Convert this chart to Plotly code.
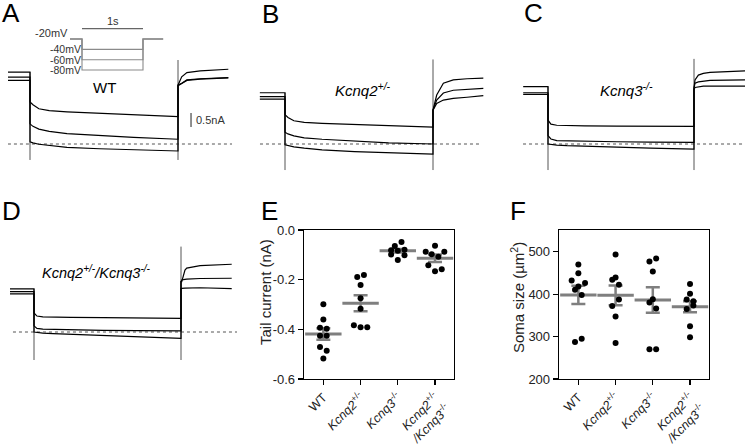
import plotly.graph_objects as go

W, H = 745, 444
FONT = "Arial, 'Liberation Sans', Helvetica, sans-serif"
GREY = "#7f7f7f"

# ---------------- data: current traces (time in s, current in nA) ----------------
step_t = [0.0, 0.02, 0.06, 0.13, 0.25, 0.47, 0.70, 1.0]

A_pre_t = -0.15
A_pre = [2.57, 2.39, 2.27]
A_step = [[1.50, 1.40, 1.26, 1.19, 1.15, 1.10, 1.04, 0.98],
          [0.72, 0.63, 0.53, 0.45, 0.37, 0.30, 0.24, 0.17],
          [0.08, 0.04, -0.01, -0.06, -0.12, -0.17, -0.21, -0.25]]
A_tail_t = [1.0, 1.025, 1.06, 1.15, 1.34]
A_tail = [[2.10, 2.40, 2.55, 2.61, 2.67],
          [2.10, 2.17, 2.29, 2.33, 2.37],
          [2.08, 2.15, 2.27, 2.32, 2.36]]
A_on = [2.57, -0.57]
A_off = [3.00, -0.57]
A_zero_t = [-0.149, 1.365]

B_pre_t = -0.17
B_pre = [1.83, 1.69, 1.60]
B_step = [[1.05, 0.95, 0.83, 0.77, 0.74, 0.70, 0.64, 0.60],
          [0.42, 0.36, 0.29, 0.22, 0.17, 0.10, 0.04, 0.00],
          [-0.03, -0.06, -0.10, -0.15, -0.21, -0.27, -0.31, -0.36]]
B_tail_t = [1.0, 1.025, 1.07, 1.137, 1.23, 1.34]
B_tail = [[1.21, 1.75, 2.17, 2.29, 2.33, 2.35],
          [1.21, 1.57, 1.82, 1.92, 1.96, 1.99],
          [1.21, 1.45, 1.57, 1.63, 1.67, 1.73]]
B_on = [1.83, -0.93]
B_off = [3.02, -0.93]
B_zero_t = [-0.169, 1.331]

C_pre_t = -0.17
C_pre = [2.05, 1.83, 1.77]
C_step = [[0.85, 0.71, 0.67, 0.66, 0.65, 0.64, 0.64, 0.63],
          [0.30, 0.18, 0.12, 0.11, 0.10, 0.08, 0.07, 0.06],
          [0.00, -0.02, -0.04, -0.06, -0.08, -0.12, -0.15, -0.18]]
C_tail_t = [1.0, 1.007, 1.03, 1.064, 1.11, 1.35]
C_tail = [[2.00, 2.29, 2.46, 2.52, 2.56, 2.61],
          [2.00, 2.17, 2.22, 2.25, 2.27, 2.29],
          [1.95, 2.02, 2.05, 2.07, 2.07, 2.07]]
C_on = [2.05, -0.93]
C_off = [3.04, -0.93]
C_zero_t = [-0.171, 1.349]

D_pre_t = -0.165
D_pre = [1.54, 1.44, 1.36]
D_step = [[0.68, 0.57, 0.54, 0.53, 0.52, 0.51, 0.50, 0.49],
          [0.22, 0.13, 0.10, 0.09, 0.08, 0.06, 0.05, 0.04],
          [0.00, -0.02, -0.04, -0.06, -0.08, -0.12, -0.16, -0.23]]
D_tail_t = [1.0, 1.005, 1.027, 1.039, 1.13, 1.345]
D_tail = [[1.80, 1.80, 2.21, 2.28, 2.37, 2.42],
          [1.80, 1.86, 1.88, 1.89, 1.91, 1.92],
          [1.55, 1.56, 1.57, 1.57, 1.58, 1.55]]
D_on = [1.54, -1.00]
D_off = [3.05, -1.00]
D_zero_t = [-0.143, 1.381]

# voltage protocol (s, mV)
proto_t = [-0.197, 0, 0, 1, 1, 1.33]
hold_mv = -20
step_mv = [-40, -60, -80]

# ---------------- data: summary panels ----------------
groups = ["WT", "<i>Kcnq2</i><sup>+/-</sup>", "<i>Kcnq3</i><sup>-/-</sup>",
          "<i>Kcnq2</i><sup>+/-</sup><br><i>/Kcnq3</i><sup>-/-</sup>"]

tail_vals = [[-0.299, -0.360, -0.394, -0.398, -0.426, -0.426, -0.471, -0.486, -0.517],
             [-0.189, -0.181, -0.221, -0.275, -0.317, -0.384, -0.392, -0.392],
             [-0.048, -0.064, -0.082, -0.084, -0.080, -0.099, -0.102, -0.121],
             [-0.063, -0.088, -0.088, -0.098, -0.108, -0.142, -0.166, -0.158]]
tail_jit = [[0, 0, -0.09, 0.09, -0.09, 0.09, -0.09, 0.09, 0],
            [-0.09, 0.09, 0, 0, 0, -0.18, 0, 0.18],
            [0.10, -0.08, -0.18, 0, 0.18, -0.18, 0.18, 0],
            [0, -0.25, 0.25, -0.09, 0.09, -0.18, 0, 0.18]]
tail_mean = [-0.419, -0.295, -0.084, -0.114]
tail_sem = [0.023, 0.032, 0.007, 0.015]
tail_ticks = [0.0, -0.2, -0.4, -0.6]
tail_ticktext = ["0.0", "-0.2", "-0.4", "-0.6"]

soma_vals = [[469.5, 449, 432, 426, 418, 410, 398, 287, 295],
             [493, 439, 434, 422, 387, 372, 347, 285],
             [476.6, 484, 453, 388, 380, 366, 270, 270.3],
             [424, 401, 387.5, 383, 373, 365, 324, 298.4]]
soma_jit = [[0, 0, -0.18, 0.18, 0, -0.09, 0.09, -0.09, 0.09],
            [0, 0, -0.09, 0.09, 0.09, -0.09, 0, 0],
            [-0.09, 0.09, 0, 0, -0.09, 0.09, -0.09, 0.09],
            [0, 0, -0.09, 0.09, 0.09, -0.09, 0, 0]]
soma_mean = [398, 397, 386, 370]
soma_sem = [21.5, 23, 30, 13]
soma_ticks = [200, 300, 400, 500]

# ---------------- layout helpers (pixel geometry) ----------------
PPN = 28.0  # px per nA


def trace_axes(px, py, on, off, zero, ppu=PPN):
    s = off - on
    xa = dict(domain=[px[0] / W, px[1] / W], range=[(px[0] - on) / s, (px[1] - on) / s],
              visible=False, showgrid=False, zeroline=False, automargin=False)
    ya = dict(domain=[1 - py[1] / H, 1 - py[0] / H],
              range=[(zero - py[1]) / ppu, (zero - py[0]) / ppu],
              visible=False, showgrid=False, zeroline=False, automargin=False)
    return xa, ya


fig = go.Figure()
layout = dict(width=W, height=H, margin=dict(l=0, r=0, t=0, b=0, pad=0, autoexpand=False),
              autosize=False,
              paper_bgcolor="white", plot_bgcolor="white", showlegend=False,
              font=dict(family=FONT, color="black"))

panels = [
    ("1", dict(px=(8, 232), py=(50, 168), on=30, off=178, zero=144),
     A_pre_t, A_pre, A_step, A_tail_t, A_tail, A_on, A_off, A_zero_t),
    ("2", dict(px=(258, 486), py=(50, 172), on=285, off=433, zero=144),
     B_pre_t, B_pre, B_step, B_tail_t, B_tail, B_on, B_off, B_zero_t),
    ("3", dict(px=(521, 745), py=(50, 172), on=548, off=694, zero=144),
     C_pre_t, C_pre, C_step, C_tail_t, C_tail, C_on, C_off, C_zero_t),
    ("4", dict(px=(10, 240), py=(240, 362), on=34, off=181, zero=332),
     D_pre_t, D_pre, D_step, D_tail_t, D_tail, D_on, D_off, D_zero_t),
]

for k, g, pre_t, pre, steps, tail_t, tails, on_rng, off_rng, zt in panels:
    xa, ya = trace_axes(**g)
    layout["xaxis" + ("" if k == "1" else k)] = dict(xa, anchor="y" + k)
    layout["yaxis" + ("" if k == "1" else k)] = dict(ya, anchor="x" + k)
    xr, yr = "x" + k, "y" + k
    fig.add_trace(go.Scatter(x=zt, y=[0, 0], mode="lines", xaxis=xr, yaxis=yr,
                             line=dict(color="#555", width=1, dash="dot"), hoverinfo="skip"))
    fig.add_trace(go.Scatter(x=[0, 0], y=on_rng, mode="lines", xaxis=xr, yaxis=yr,
                             line=dict(color="#555", width=1), hoverinfo="skip"))
    fig.add_trace(go.Scatter(x=[1, 1], y=off_rng, mode="lines", xaxis=xr, yaxis=yr,
                             line=dict(color="#555", width=1), hoverinfo="skip"))
    for p, st, tl in zip(pre, steps, tails):
        xs = [pre_t, 0] + step_t + tail_t
        ys = [p, p] + st + tl
        fig.add_trace(go.Scatter(x=xs, y=ys, mode="lines", xaxis=xr, yaxis=yr,
                                 line=dict(color="black", width=1.2), hoverinfo="skip"))

# protocol axes (inside panel A)
P_PX, P_PY, P_ON, P_OFF = (55, 175), (15, 80), 82, 143
P_REF_Y, P_PPM = 39, 0.517  # -20 mV at y=39 px, px per mV
s = P_OFF - P_ON
layout["xaxis5"] = dict(domain=[P_PX[0] / W, P_PX[1] / W],
                        range=[(P_PX[0] - P_ON) / s, (P_PX[1] - P_ON) / s],
                        visible=False, anchor="y5", automargin=False)
layout["yaxis5"] = dict(domain=[1 - P_PY[1] / H, 1 - P_PY[0] / H],
                        range=[hold_mv - (P_PY[1] - P_REF_Y) / P_PPM, hold_mv + (P_REF_Y - P_PY[0]) / P_PPM],
                        visible=False, anchor="x5", automargin=False)
for v in step_mv:
    fig.add_trace(go.Scatter(x=proto_t, y=[hold_mv, hold_mv, v, v, hold_mv, hold_mv], mode="lines",
                             xaxis="x5", yaxis="y5", line=dict(color="#8a8a8a", width=1.1),
                             hoverinfo="skip"))
fig.add_trace(go.Scatter(x=[0, 1], y=[0, 0], mode="lines", xaxis="x5", yaxis="y5",
                         line=dict(color="#666", width=1.1), hoverinfo="skip"))


# ---------------- summary panels E and F ----------------
def summary(k, px, py, vals, jit, mean, sem, yrange, ticks, ticktext):
    layout["xaxis" + k] = dict(domain=[px[0] / W, px[1] / W], range=[-0.52, 3.51],
                               tickvals=[0, 1, 2, 3], ticktext=groups, tickangle=-45,
                               ticks="outside", ticklen=5, tickwidth=1.2, tickcolor="black",
                               showline=True, linecolor="black", linewidth=1.3, mirror=True,
                               showgrid=False, zeroline=False, anchor="y" + k, automargin=False,
                               tickfont=dict(size=12.5, family=FONT, color="#222"))
    layout["yaxis" + k] = dict(domain=[1 - py[1] / H, 1 - py[0] / H], range=yrange,
                               tickvals=ticks, ticktext=ticktext,
                               ticks="outside", ticklen=5, tickwidth=1.2, tickcolor="black",
                               showline=True, linecolor="black", linewidth=1.3, mirror=True,
                               showgrid=False, zeroline=False, anchor="x" + k, automargin=False,
                               tickfont=dict(size=13, family=FONT, color="#222"))
    fig.add_trace(go.Scatter(x=[0, 1, 2, 3], y=mean, mode="markers", xaxis="x" + k, yaxis="y" + k,
                             marker=dict(symbol="line-ew", size=26, line=dict(width=3, color=GREY)),
                             error_y=dict(type="data", array=sem, visible=True, color=GREY,
                                          thickness=2.5, width=7), hoverinfo="skip"))
    for i, (vs, js) in enumerate(zip(vals, jit)):
        fig.add_trace(go.Scatter(x=[i + j for j in js], y=vs, mode="markers",
                                 xaxis="x" + k, yaxis="y" + k,
                                 marker=dict(color="black", size=6), hoverinfo="skip"))


summary("6", (304, 454), (230, 379), tail_vals, tail_jit, tail_mean, tail_sem,
        [-0.6, 0.0], tail_ticks, tail_ticktext)
summary("7", (559, 709), (230, 379), soma_vals, soma_jit, soma_mean, soma_sem,
        [200, 551], soma_ticks, [str(t) for t in soma_ticks])

# ---------------- annotations ----------------
ann = []


def pa(x, y, text, size, **kw):
    d = dict(x=x / W, y=1 - y / H, xref="paper", yref="paper", text=text, showarrow=False,
             font=dict(size=size, family=FONT, color="black"), xanchor="center", yanchor="middle")
    d.update(kw)
    ann.append(d)


for lab, x, y in [("A", 11, 13), ("B", 270, 14), ("C", 533, 13),
                  ("D", 11, 211), ("E", 269, 211), ("F", 518, 211)]:
    pa(x, y, lab, 26)

# y-axis titles of E and F
pa(265, 292, "Tail current (nA)", 15, textangle=-90, font=dict(size=15, family=FONT, color="#222"))
pa(517, 298, "Soma size (µm<sup>2</sup>)", 15, textangle=-90, font=dict(size=15, family=FONT, color="#222"))


def da(xr, yr, x, y, text, size, **kw):
    d = dict(x=x, y=y, xref=xr, yref=yr, text=text, showarrow=False,
             font=dict(size=size, family=FONT, color="black"), xanchor="center", yanchor="middle")
    d.update(kw)
    ann.append(d)


da("x5", "y5", proto_t[0], hold_mv, "-20mV", 11, xanchor="right", yshift=6,
   font=dict(size=11, family=FONT, color="#333"))
for v in step_mv:
    da("x5", "y5", 0, v, f"{v}mV", 10.5, xanchor="right", xshift=1,
       font=dict(size=10.5, family=FONT, color="#333"))
da("x5", "y5", 0.5, 0, "1s", 11, yanchor="bottom", yshift=0, font=dict(size=11, family=FONT, color="#333"))

da("x", "y", 0.5, 2.0, "WT", 15)
da("x2", "y2", 0.324, 1.96, "<i>Kcnq2<sup>+/-</sup></i>", 15, xanchor="left")
da("x3", "y3", 0.342, 1.96, "<i>Kcnq3<sup>-/-</sup></i>", 15, xanchor="left")
da("x4", "y4", 0.04, 2.14, "<i>Kcnq2<sup>+/-</sup>/Kcnq3<sup>-/-</sup></i>", 14.5, xanchor="left")

fig.add_trace(go.Scatter(x=[1.088, 1.088], y=[1.107, 0.607], mode="lines", xaxis="x", yaxis="y",
                         line=dict(color="#333", width=1.1), hoverinfo="skip"))
da("x", "y", 1.11, 0.857, "0.5nA", 11, xanchor="left", font=dict(size=11, family=FONT, color="#333"))

layout["annotations"] = ann
fig.update_layout(**layout)
fig.write_html("out.html", config={"displayModeBar": False, "staticPlot": True},
               post_script="document.body.style.margin='0px';document.body.style.overflow='hidden';")
